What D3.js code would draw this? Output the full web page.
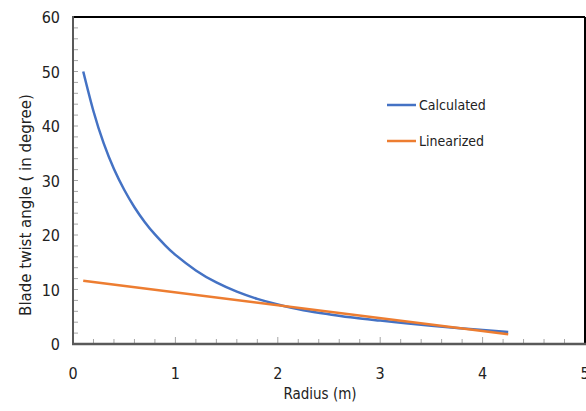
<!DOCTYPE html>
<html>
<head>
<meta charset="utf-8">
<script src="https://cdn.jsdelivr.net/npm/d3@7"></script>
<style>
  body { margin: 0; background: #fff; }
  .narrow { font-family: "DejaVu Sans Condensed", "Liberation Sans Narrow", sans-serif; font-stretch: condensed; fill: #222; }
</style>
</head>
<body>
<svg width="586" height="411"></svg>
<script>
"use strict"

// radius (m) and twist angle (deg)
var calcRadius = [0.1, 0.2, 0.3, 0.4, 0.5, 0.6, 0.7, 0.8, 0.9, 1.0, 1.2, 1.4, 1.6, 1.8, 2.0, 2.25, 2.5, 2.75, 3.0, 3.25, 3.5, 3.75, 4.0, 4.25]
var calcAngle = [50, 42.7, 36.8, 32.1, 28.3, 25.1, 22.4, 20.1, 18.1, 16.35, 13.5, 11.3, 9.6, 8.28, 7.25, 6.2, 5.45, 4.8, 4.3, 3.8, 3.35, 2.95, 2.57, 2.2]
var linRadius = [0.1, 4.25]
var linAngle = [11.6, 1.8]
var xTicks = [0, 1, 2, 3, 4, 5]
var yTicks = [0, 10, 20, 30, 40, 50, 60]
var seriesNames = ["Calculated", "Linearized"]
var seriesColors = ["#4472C4", "#ED7D31"]

var svg = d3.select("svg")
var pLeft = 73, pRight = 585, pTop = 17, pBottom = 344

var x = d3.scaleLinear().domain([0, 5]).range([pLeft, pRight])
var y = d3.scaleLinear().domain([0, 60]).range([pBottom, pTop])

// minor ticks inside the plot
var g = svg.append("g")
g.selectAll("line.xminor")
    .data(d3.range(0, 5.001, 0.2))
    .enter().append("line")
    .attr("x1", function(d) { return x(d) })
    .attr("x2", function(d) { return x(d) })
    .attr("y1", pBottom)
    .attr("y2", function(d) { return Math.abs(d - Math.round(d)) < 1e-6 ? pBottom - 7 : pBottom - 5 })
    .attr("stroke", "#a6a6a6").attr("stroke-width", 1)
g.selectAll("line.yminor")
    .data(d3.range(0, 60.001, 2))
    .enter().append("line")
    .attr("x1", pLeft)
    .attr("x2", pLeft + 5)
    .attr("y1", function(d) { return y(d) })
    .attr("y2", function(d) { return y(d) })
    .attr("stroke", "#a6a6a6").attr("stroke-width", 1)

// frame: black top/right, gray axes
svg.append("line").attr("x1", pLeft).attr("x2", pRight).attr("y1", pTop).attr("y2", pTop)
    .attr("stroke", "#000").attr("stroke-width", 2)
svg.append("line").attr("x1", pRight).attr("x2", pRight).attr("y1", pTop).attr("y2", pBottom)
    .attr("stroke", "#000").attr("stroke-width", 2)
svg.append("line").attr("x1", pLeft).attr("x2", pLeft).attr("y1", pTop - 1).attr("y2", pBottom)
    .attr("stroke", "#595959").attr("stroke-width", 2)
svg.append("line").attr("x1", pLeft - 1).attr("x2", pRight + 1).attr("y1", pBottom).attr("y2", pBottom)
    .attr("stroke", "#595959").attr("stroke-width", 2.5)

// tick labels
svg.selectAll("text.xl").data(xTicks).enter().append("text")
    .attr("class", "narrow")
    .style("font-size", "16px")
    .attr("x", function(d) { return x(d) })
    .attr("y", 379)
    .attr("text-anchor", "middle")
    .text(function(d) { return d })
svg.selectAll("text.yl").data(yTicks).enter().append("text")
    .attr("class", "narrow")
    .style("font-size", "16px")
    .attr("x", 60)
    .attr("y", function(d) { return y(d) + 6 })
    .attr("text-anchor", "end")
    .text(function(d) { return d })

// axis titles
svg.append("text")
    .attr("class", "narrow")
    .attr("x", 320).attr("y", 399)
    .attr("text-anchor", "middle")
    .style("font-size", "15px")
    .text("Radius (m)")
svg.append("text")
    .attr("transform", "translate(31,205) rotate(-90)")
    .attr("text-anchor", "middle")
    .style("font-family", "'DejaVu Sans', sans-serif")
    .style("font-size", "15px").style("fill", "#222")
    .text("Blade twist angle ( in degree)")

// curves
var line = d3.line()
    .x(function(d) { return x(d[0]) })
    .y(function(d) { return y(d[1]) })
    .curve(d3.curveNatural)

var series = [d3.zip(calcRadius, calcAngle), d3.zip(linRadius, linAngle)]
series.forEach(function(pts, i) {
    svg.append("path")
        .datum(pts)
        .attr("d", line)
        .attr("fill", "none")
        .attr("stroke", seriesColors[i])
        .attr("stroke-width", 2.5)
})

// legend
seriesNames.forEach(function(name, i) {
    var ly = 105 + i * 36
    svg.append("line")
        .attr("x1", 387).attr("x2", 416).attr("y1", ly).attr("y2", ly)
        .attr("stroke", seriesColors[i]).attr("stroke-width", 2.5)
    svg.append("text")
        .attr("class", "narrow")
        .attr("x", 419).attr("y", ly + 5)
        .style("font-size", "14px")
        .text(name)
})
</script>
</body>
</html>
